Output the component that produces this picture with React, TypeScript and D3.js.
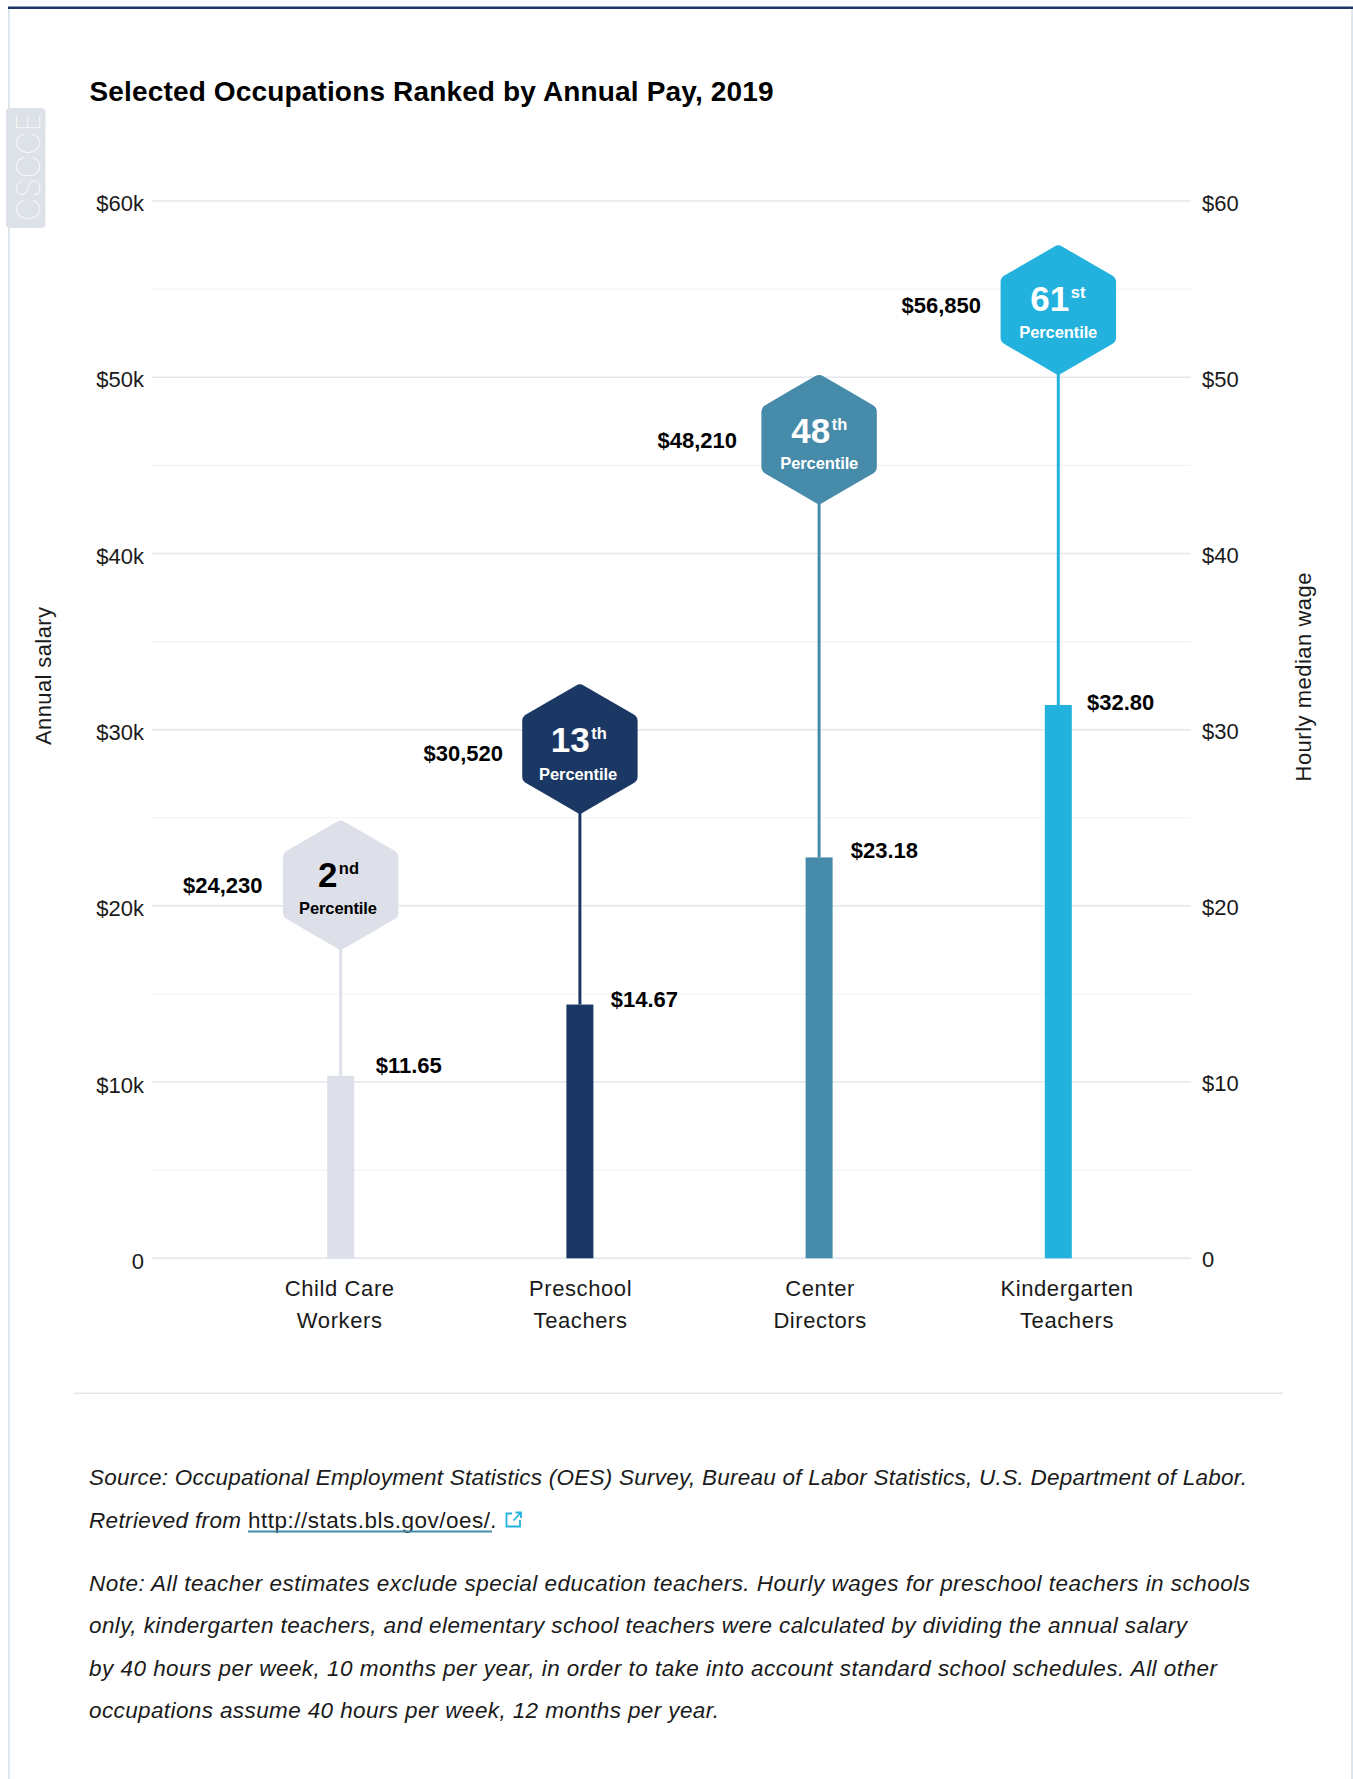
import React from "react";
import * as d3 from "d3";

const categories = [["Child Care", "Workers"], ["Preschool", "Teachers"], ["Center", "Directors"], ["Kindergarten", "Teachers"]];
const categoryKeys = ["Child Care Workers", "Preschool Teachers", "Center Directors", "Kindergarten Teachers"];
const plottedHourly = [10.36, 14.4, 22.75, 31.4];
const plottedStemTopAnnual = [17470, 25200, 42760, 50110];
const annualLabels = ["$24,230", "$30,520", "$48,210", "$56,850"];
const hourlyLabels = ["$11.65", "$14.67", "$23.18", "$32.80"];
const percentileNumbers = ["2", "13", "48", "61"];
const percentileSuffixes = ["nd", "th", "th", "st"];
const majorTicks = [0, 10, 20, 30, 40, 50, 60];
const minorTicks = [5, 15, 25, 35, 45, 55];
const leftTickLabels = ["0", "$10k", "$20k", "$30k", "$40k", "$50k", "$60k"];
const rightTickLabels = ["0", "$10", "$20", "$30", "$40", "$50", "$60"];
const colors = ["#dde0e8", "#1b3864", "#468ba9", "#23b1de"];
const textColors = ["#000000", "#ffffff", "#ffffff", "#ffffff"];
const title = "Selected Occupations Ranked by Annual Pay, 2019";
const sourceLine1 = "Source: Occupational Employment Statistics (OES) Survey, Bureau of Labor Statistics, U.S. Department of Labor.";
const noteLines = [
  "Note: All teacher estimates exclude special education teachers. Hourly wages for preschool teachers in schools",
  "only, kindergarten teachers, and elementary school teachers were calculated by dividing the annual salary",
  "by 40 hours per week, 10 months per year, in order to take into account standard school schedules. All other",
  "occupations assume 40 hours per week, 12 months per year.",
];

// layout
const annualLabelX = [262.5, 503, 737, 981];
const annualLabelDy = [7.9, 12.5, 8.4, 2.9];
const hourlyLabelX = [375.7, 610.7, 850.7, 1087];
const hourlyLabelDy = [-3, 2.4, 0.6, 5];
const catDx = [-1, 0.7, 1, 8.7];
const noteBaselines = [1591, 1633, 1676, 1718];
const noteEnds = [1250, 1187, 1217, 719];
const numX = [-22.8, -29.1, -27.8, -28];
const numDy = [1.9, 3.5, 3.8, 0.9];
const pctDy = [29.5, 30.8, 30.1, 28.5];
const pctDx = [-2.7, -1.8, 0.2, 0];
const HEX_H = 65.5;

const FONT = "'Liberation Sans', sans-serif";
const y = d3.scaleLinear().domain([0, 60]).range([1258.3, 201]);
const yLeftLabel = d3.scaleLinear().domain([0, 60]).range([1269, 211]);
const yRightLabel = d3.scaleLinear().domain([0, 60]).range([1266.5, 210.5]);
const x = d3.scalePoint().domain(categoryKeys).range([340.7, 1058.3]);

function hexPath(cx: number, cy: number) {
  const w = 57.7, h = HEX_H, s = 32, r = 7.5;
  const pts: [number, number][] = [
    [cx, cy - h], [cx + w, cy - s], [cx + w, cy + s], [cx, cy + h], [cx - w, cy + s], [cx - w, cy - s],
  ];
  const p = d3.path();
  const m = (a: [number, number], b: [number, number]) => [(a[0] + b[0]) / 2, (a[1] + b[1]) / 2];
  const start = m(pts[5], pts[0]);
  p.moveTo(start[0], start[1]);
  pts.forEach((pt, i) => {
    const nx = pts[(i + 1) % 6];
    const e = m(pt, nx);
    p.arcTo(pt[0], pt[1], e[0], e[1], i === 3 ? 2 : r);
    p.lineTo(e[0], e[1]);
  });
  p.closePath();
  return p.toString();
}

export default function App() {
  const ink = "#1a1a1a";
  return (
    <svg width={1353} height={1779} style={{ position: "absolute", left: 0, top: 0, display: "block", background: "#fff" }} fontFamily={FONT}>
      <rect x={8} y={7} width={1345} height={1772} fill="#fff" />
      <rect x={8} y={7} width={1.8} height={1772} fill="#dde5ee" />
      <rect x={1351} y={7} width={2} height={1772} fill="#dde5ee" />
      <rect x={8} y={6.5} width={1345} height={2.5} fill="#1b3864" />

      <rect x={6} y={108} width={39.5} height={120} rx={4} fill="#dde1e8" />
      <text transform="translate(40,221) rotate(-90)" fontFamily="Inter, sans-serif" fontWeight={100} fontSize={33} fill="#fff" textLength={108} lengthAdjust="spacingAndGlyphs">CSCCE</text>

      <text x={89.5} y={101} fontSize={28} fontWeight={700} fill="#000" textLength={684}>{title}</text>

      {minorTicks.map((t) => <line key={t} x1={152} x2={1191} y1={y(t)} y2={y(t)} stroke="#f2f3f6" strokeWidth={1.2} />)}
      {majorTicks.map((t) => <line key={t} x1={152} x2={1191} y1={y(t)} y2={y(t)} stroke={t === 0 ? "#dfe5ec" : "#e4e6ec"} strokeWidth={1.5} />)}

      {majorTicks.map((t, i) => (
        <g key={t} fontSize={22} fill={ink}>
          <text x={144} y={yLeftLabel(t)} textAnchor="end">{leftTickLabels[i]}</text>
          <text x={1202} y={yRightLabel(t)}>{rightTickLabels[i]}</text>
        </g>
      ))}

      <text transform="translate(50.5,676) rotate(-90)" textAnchor="middle" fontSize={22} fill={ink} textLength={138}>Annual salary</text>
      <text transform="translate(1310.5,677) rotate(-90)" textAnchor="middle" fontSize={22} fill={ink} textLength={209}>Hourly median wage</text>

      {categoryKeys.map((k, i) => {
        const cx = x(k) as number;
        const barY = y(plottedHourly[i]);
        const tip = y(plottedStemTopAnnual[i] / 1000);
        const hy = tip - HEX_H;
        return (
          <g key={k}>
            <line x1={cx} x2={cx} y1={barY} y2={tip - 2} stroke={colors[i]} strokeWidth={3} />
            <rect x={cx - 13.5} y={barY} width={27} height={y(0) - barY} fill={colors[i]} />
            <path d={hexPath(cx, hy)} fill={colors[i]} />
            <text x={cx + numX[i]} y={hy + numDy[i]} fill={textColors[i]} fontWeight={700}>
              <tspan fontSize={35}>{percentileNumbers[i]}</tspan>
              <tspan fontSize={16.5} dx={1.5} dy={-13}>{percentileSuffixes[i]}</tspan>
            </text>
            <text x={cx + pctDx[i]} y={hy + pctDy[i]} fill={textColors[i]} textAnchor="middle" fontWeight={700} fontSize={16.5} textLength={78}>Percentile</text>
            <text x={annualLabelX[i]} y={hy + annualLabelDy[i]} textAnchor="end" fontWeight={700} fontSize={22} fill="#000">{annualLabels[i]}</text>
            <text x={hourlyLabelX[i]} y={barY + hourlyLabelDy[i]} fontWeight={700} fontSize={22} fill="#000">{hourlyLabels[i]}</text>
            <g fontSize={22} fill={ink} textAnchor="middle" letterSpacing={0.6}>
              <text x={cx + catDx[i]} y={1296}>{categories[i][0]}</text>
              <text x={cx + catDx[i]} y={1328}>{categories[i][1]}</text>
            </g>
          </g>
        );
      })}

      <line x1={73.4} x2={1283} y1={1393.3} y2={1393.3} stroke="#e4e8ee" strokeWidth={1.5} />

      <g fontSize={22.5} fill={ink} fontStyle="italic">
        <text x={89} y={1485} textLength={1158}>{sourceLine1}</text>
        <text x={89} y={1528} textLength={152}>Retrieved from</text>
        <text x={248} y={1528} fontStyle="normal" textLength={242}>http://stats.bls.gov/oes/</text>
        <text x={491} y={1528}>.</text>
        {noteLines.map((l, i) => (
          <text key={i} x={89} y={noteBaselines[i]} textLength={noteEnds[i] - 89}>{l}</text>
        ))}
      </g>
      <line x1={248} x2={492} y1={1531.5} y2={1531.5} stroke="#468ba9" strokeWidth={1.8} />
      <g fill="none" stroke="#23b1de" strokeWidth={1.8}>
        <path d="M512 1513.5 H506.5 V1526.5 H520 V1520" />
        <path d="M513.5 1520.5 L520.5 1513 M515.5 1512.5 H521 V1518" />
      </g>
    </svg>
  );
}
